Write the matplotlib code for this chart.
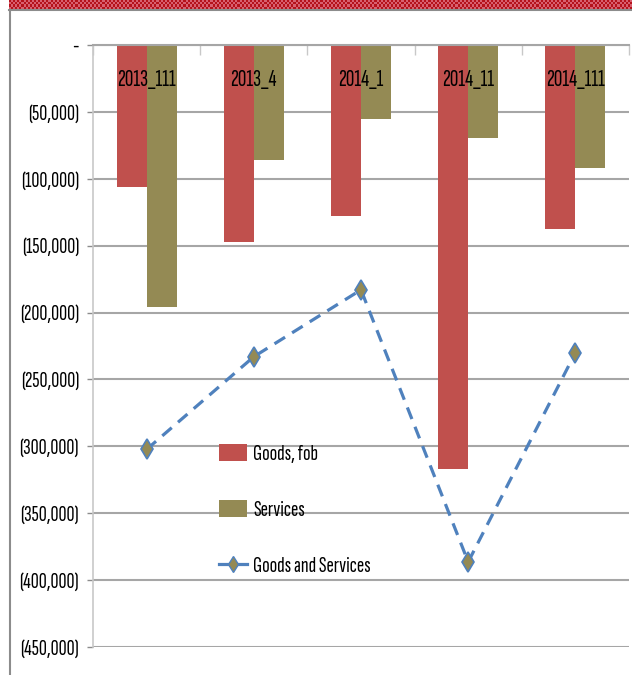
import numpy as np
import matplotlib.pyplot as plt
from matplotlib.colors import ListedColormap
from matplotlib.patches import Patch
from matplotlib.lines import Line2D
from matplotlib.ticker import FuncFormatter, FixedLocator

# datos
periodos = ['2013_111', '2013_4', '2014_1', '2014_11', '2014_111']
bienes = [-106500, -147200, -127600, -317000, -137800]
servicios = [-195800, -85800, -55400, -69400, -92200]
bienes_servicios = [-302300, -233000, -183000, -386400, -230000]

ROJO = '#C0504D'
OLIVA = '#948A54'
AZUL = '#4F81BD'
GRIS = '#A6A6A6'

plt.rcParams['font.family'] = ['Sofia Sans Extra Condensed', 'DejaVu Sans']

W, H = 632, 675
fig = plt.figure(figsize=(W / 100, H / 100), dpi=100)

# banda superior a cuadros
banda = fig.add_axes([9 / W, 1 - 9 / H, 1 - 9 / W, 9 / H])
cuadros = (np.indices((4, 300)).sum(axis=0) % 2).astype(float)
banda.imshow(cuadros, cmap=ListedColormap(['#B5121B', '#D86070']),
             aspect='auto', interpolation='nearest')
banda.axis('off')

# marco exterior
fig.add_artist(Line2D([9 / W, 1], [1 - 10 / H, 1 - 10 / H], color='#8C8C8C', lw=1.5))
fig.add_artist(Line2D([10 / W, 10 / W], [0, 1 - 10 / H], color='#8C8C8C', lw=1.5))

ax = fig.add_axes([93 / W, 1 - 647 / H, (629 - 93) / W, (647 - 45) / H])

x = np.arange(len(periodos))
ancho = 0.28
ax.bar(x - ancho / 2, bienes, ancho, color=ROJO, zorder=2)
ax.bar(x + ancho / 2, servicios, ancho, color=OLIVA, zorder=2)
ax.plot(x, bienes_servicios, color=AZUL, lw=2.3, dashes=(3.9, 2.6),
        marker='d', markersize=10, markerfacecolor=OLIVA, markeredgecolor=AZUL,
        markeredgewidth=1.2, zorder=3)

ax.set_xlim(-0.5, len(periodos) - 0.5)
ax.set_ylim(-450000, 0)

# etiquetas de categoría dentro del gráfico
for i, p in enumerate(periodos):
    ax.text(i, -26500, p, ha='center', va='center', fontsize=17,
            fontweight='bold', color='black', zorder=4)

# eje y
ticks_y = np.arange(-450000, 1, 50000)
ax.yaxis.set_major_locator(FixedLocator(ticks_y))
ax.yaxis.set_major_formatter(FuncFormatter(
    lambda v, pos: '-' if v == 0 else '({:,.0f})'.format(abs(v))))
ax.tick_params(axis='y', length=4, width=1, color='#8C8C8C', pad=6, labelsize=16)
ax.grid(axis='y', color=GRIS, lw=1.5, zorder=0)

# eje x: marcas en la parte superior
ax.xaxis.tick_top()
ax.set_xticks([])
ax.set_xticks(np.arange(-0.5, len(periodos)), minor=True)
ax.tick_params(axis='x', which='minor', direction='in', length=7, width=1, color='#C8C8C8')

for lado in ['right', 'bottom']:
    ax.spines[lado].set_visible(False)
ax.spines['top'].set_color(GRIS)
ax.spines['top'].set_linewidth(1.5)
ax.spines['left'].set_color('#C8C8C8')
ax.spines['left'].set_linewidth(1.2)

manejadores = [
    Patch(facecolor=ROJO),
    Patch(facecolor=OLIVA),
    Line2D([], [], color=AZUL, lw=2.3, marker='d', markersize=8,
           markerfacecolor=OLIVA, markeredgecolor=AZUL),
]
ax.legend(manejadores, ['Goods, fob', 'Services', 'Goods and Services'],
          loc='upper left', bbox_to_anchor=(210 / W, 1 - 435 / H),
          bbox_transform=fig.transFigure, frameon=False, fontsize=16,
          labelspacing=1.6, handlelength=1.25, handleheight=0.8,
          handletextpad=0.3, borderaxespad=0)

fig.savefig('out.png', dpi=100)
